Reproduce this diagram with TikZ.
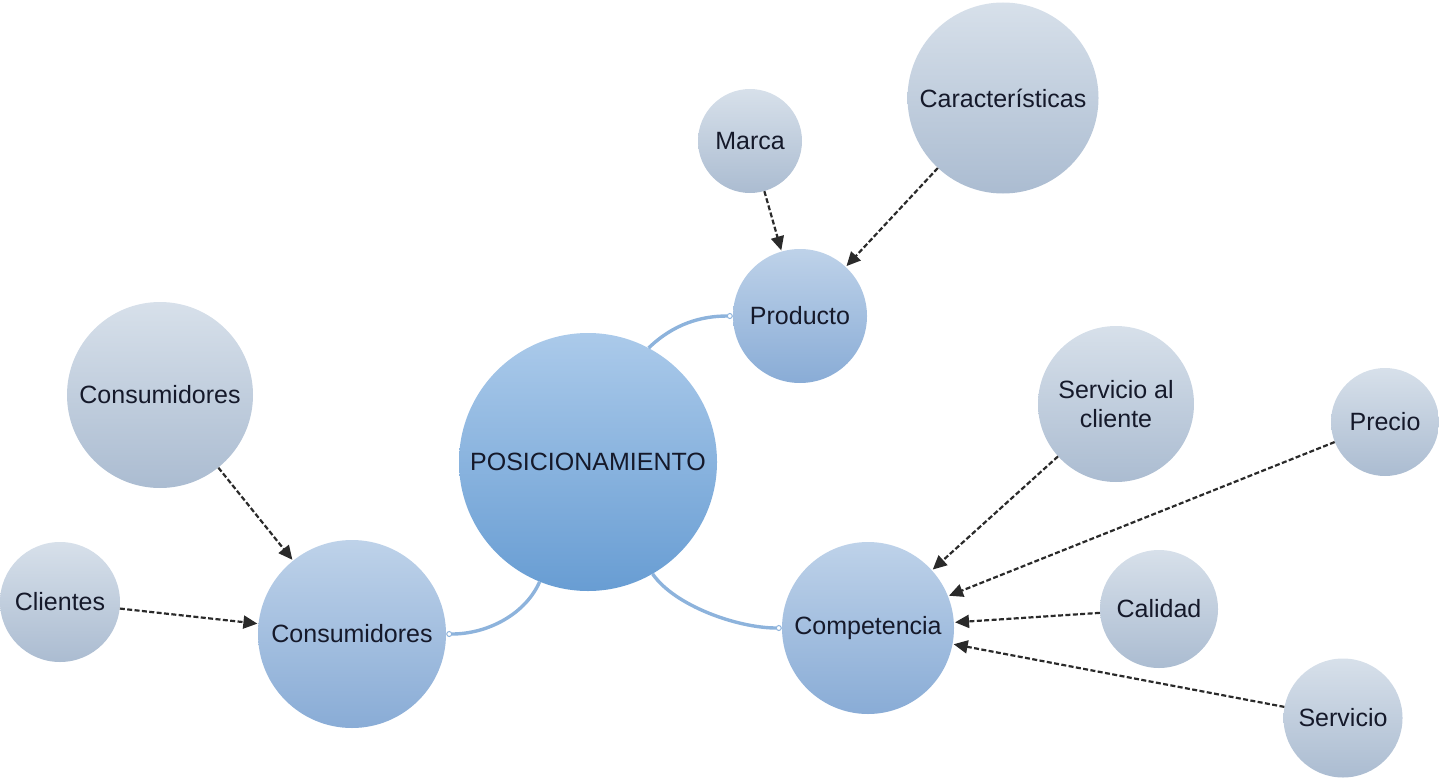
\documentclass[tikz,border=0pt]{standalone}
\usepackage{fontspec}
\setmainfont{Liberation Sans}
\usetikzlibrary{arrows.meta}

\definecolor{leafTop}{HTML}{D7E0EA}
\definecolor{leafBot}{HTML}{ABBCD1}
\definecolor{midTop}{HTML}{BED2E9}
\definecolor{midBot}{HTML}{89ACD6}
\definecolor{hubTop}{HTML}{ABCAEA}
\definecolor{hubBot}{HTML}{689DD3}
\definecolor{linkBlue}{HTML}{8DB3DC}
\definecolor{inkDark}{HTML}{15192A}
\definecolor{arrowDark}{HTML}{2A2A2A}

\tikzset{
  bubble/.style={circle, inner sep=0pt, text=inkDark, align=center,
    font=\fontsize{25}{29}\selectfont},
  leaf/.style={bubble, top color=leafTop, bottom color=leafBot},
  branch/.style={bubble, top color=midTop, bottom color=midBot},
  hub/.style={bubble, top color=hubTop, bottom color=hubBot},
  feed/.style={draw=arrowDark, line width=2.2pt, dash pattern=on 5pt off 2.4pt,
    -{Triangle[length=14pt,width=13pt]}, shorten >=1pt},
  link/.style={draw=linkBlue, line width=3.4pt,
    -{Circle[length=6pt,fill=white,line width=1pt]}}
}

\begin{document}
\begin{tikzpicture}[x=1pt,y=-1pt]
  \useasboundingbox (0,0) rectangle (1439,781);

  % central concept and its three branches
  \node[hub, minimum size=258pt]    (hub)  at (588,462) {POSICIONAMIENTO};
  \node[branch, minimum size=134pt] (prod) at (800,316) {Producto};
  \node[branch, minimum size=188pt] (cons) at (352,634) {Consumidores};
  \node[branch, minimum size=172pt] (comp) at (868,628) {Competencia};

  % factors feeding each branch
  \node[leaf, minimum size=104pt] (marca) at (750,141) {Marca};
  \node[leaf, minimum size=191pt] (carac) at (1003,98) {Características};
  \node[leaf, minimum size=186pt] (consu) at (160,395) {Consumidores};
  \node[leaf, minimum size=120pt] (clien) at (60,602) {Clientes};
  \node[leaf, minimum size=156pt] (servc) at (1116,404) {Servicio al\\cliente};
  \node[leaf, minimum size=108pt] (prec)  at (1385,422) {Precio};
  \node[leaf, minimum size=118pt] (cal)   at (1159,609) {Calidad};
  \node[leaf, minimum size=119pt] (serv)  at (1343,718) {Servicio};

  % curved links from the central concept
  \draw[link] (hub.62)  .. controls +(25,-24) and +(-32,0) .. (prod.west);
  \draw[link] (hub.248) .. controls +(-14,32) and +(42,0)  .. (cons.east);
  \draw[link] (hub.300) .. controls +(22,32)  and +(-44,0) .. (comp.west);

  % dashed influence arrows
  \draw[feed] (marca) -- (prod);
  \draw[feed] (carac) -- (prod);
  \draw[feed] (consu) -- (cons);
  \draw[feed] (clien) -- (cons);
  \draw[feed] (servc) -- (comp);
  \draw[feed] (prec)  -- (comp);
  \draw[feed] (cal)   -- (comp);
  \draw[feed] (serv)  -- (comp);
\end{tikzpicture}
\end{document}
